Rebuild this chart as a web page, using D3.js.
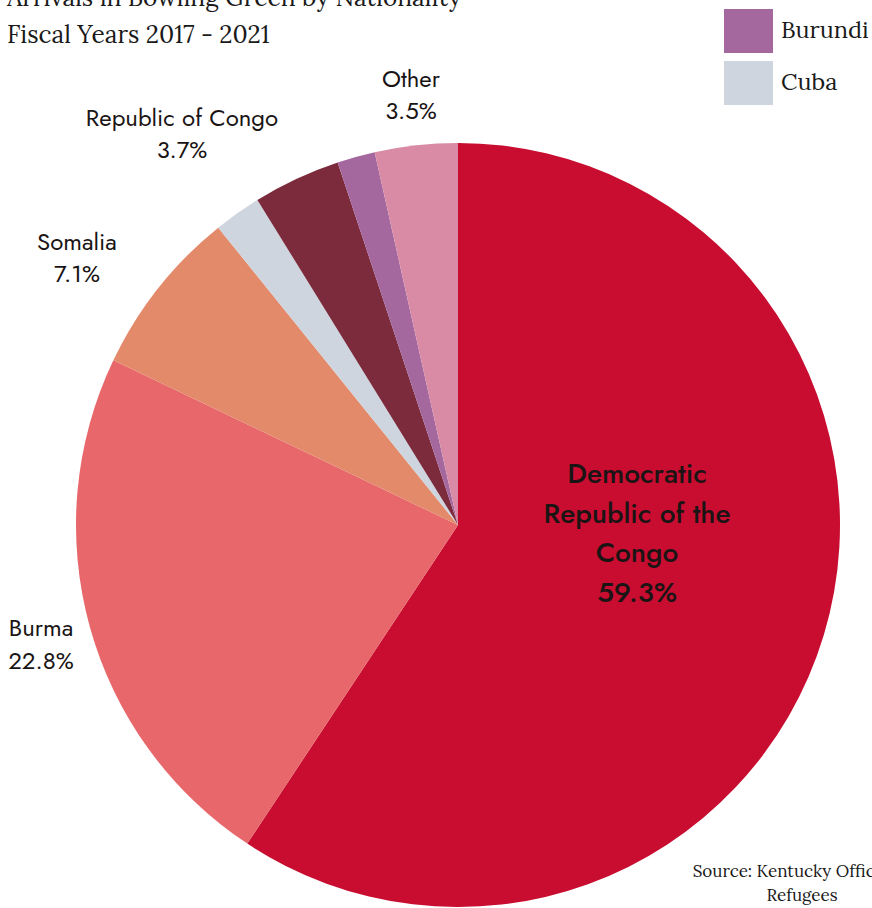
<!DOCTYPE html>
<html>
<head>
<meta charset="utf-8">
<script src="https://cdn.jsdelivr.net/npm/d3@7"></script>
<style>
  html, body { margin: 0; padding: 0; background: #ffffff; }
  svg { display: block; }
</style>
</head>
<body>
<svg id="chart" width="872" height="908"></svg>
<script>
// ---- data ----
const categories = ["Democratic Republic of the Congo", "Burma", "Somalia", "Cuba", "Republic of Congo", "Burundi", "Other"];
const shares = [59.3, 22.8, 7.1, 2.0, 3.7, 1.6, 3.5];
const colors = ["#C80D30", "#E8676B", "#E38A6B", "#CFD5DE", "#7B2B3B", "#A4689E", "#D98BA6"];
const titleLines = ["Arrivals in Bowling Green by Nationality", "Fiscal Years 2017 - 2021"];
const legendItems = ["Burundi", "Cuba"];
const sourceLines = ["Source: Kentucky Office for", "Refugees"];

// label text lines per category (null = no label)
const labelLines = [
  ["Democratic", "Republic of the", "Congo", "59.3%"],
  ["Burma", "22.8%"],
  ["Somalia", "7.1%"],
  null,
  ["Republic of Congo", "3.7%"],
  null,
  ["Other", "3.5%"]
];

// ---- layout ----
const cx = 458, cy = 525, R = 382;
const labelPos = [
  {x: 637, y: 483, dy: 39.5, size: 28, weight: 500},
  {x: 41, y: 636, dy: 33, size: 24, weight: 400},
  {x: 77, y: 250, dy: 32, size: 24, weight: 400},
  null,
  {x: 182, y: 126, dy: 32, size: 24, weight: 400},
  null,
  {x: 411, y: 87, dy: 32, size: 24, weight: 400}
];

const svg = d3.select("#chart");

const data = categories.map((c, i) => ({name: c, value: shares[i], color: colors[i]}));
const pie = d3.pie().sort(null).value(d => d.value).startAngle(0).endAngle(2 * Math.PI);
const arc = d3.arc().innerRadius(0).outerRadius(R);

const g = svg.append("g").attr("transform", `translate(${cx},${cy})`);
g.selectAll("path")
  .data(pie(data))
  .join("path")
  .attr("d", arc)
  .attr("fill", d => d.data.color);

// labels
const labelFont = "Jost, 'Century Gothic', Lato, 'Noto Sans', sans-serif";
labelLines.forEach((lines, i) => {
  if (!lines) return;
  const p = labelPos[i];
  const t = svg.append("text")
    .attr("text-anchor", "middle")
    .attr("font-family", labelFont)
    .attr("font-size", p.size)
    .attr("font-weight", p.weight)
    .attr("fill", "#1a1414");
  lines.forEach((ln, k) => {
    t.append("tspan").attr("x", p.x).attr("y", p.y + k * p.dy).text(ln);
  });
});

// title
const serif = "Lora, Gelasio, 'Liberation Serif', 'DejaVu Serif', serif";
svg.append("text")
  .attr("font-family", serif).attr("font-size", 24.5).attr("fill", "#1a1a1a")
  .selectAll("tspan").data(titleLines).join("tspan")
  .attr("x", 7).attr("y", (d, i) => 6 + i * 37).text(d => d);

// legend
const legendColor = {"Burundi": colors[5], "Cuba": colors[3]};
const lg = svg.append("g");
legendItems.forEach((name, i) => {
  lg.append("rect").attr("x", 724).attr("y", 9 + i * 52).attr("width", 49).attr("height", 44)
    .attr("fill", legendColor[name]);
  lg.append("text").attr("x", 781).attr("y", 38 + i * 52)
    .attr("font-family", serif).attr("font-size", 23.5).attr("fill", "#1a1a1a").text(name);
});

// source
svg.append("text")
  .attr("font-family", serif).attr("font-size", 17).attr("fill", "#1a1a1a")
  .attr("text-anchor", "middle")
  .selectAll("tspan").data(sourceLines).join("tspan")
  .attr("x", 802).attr("y", (d, i) => 877 + i * 24).text(d => d);
</script>
</body>
</html>
